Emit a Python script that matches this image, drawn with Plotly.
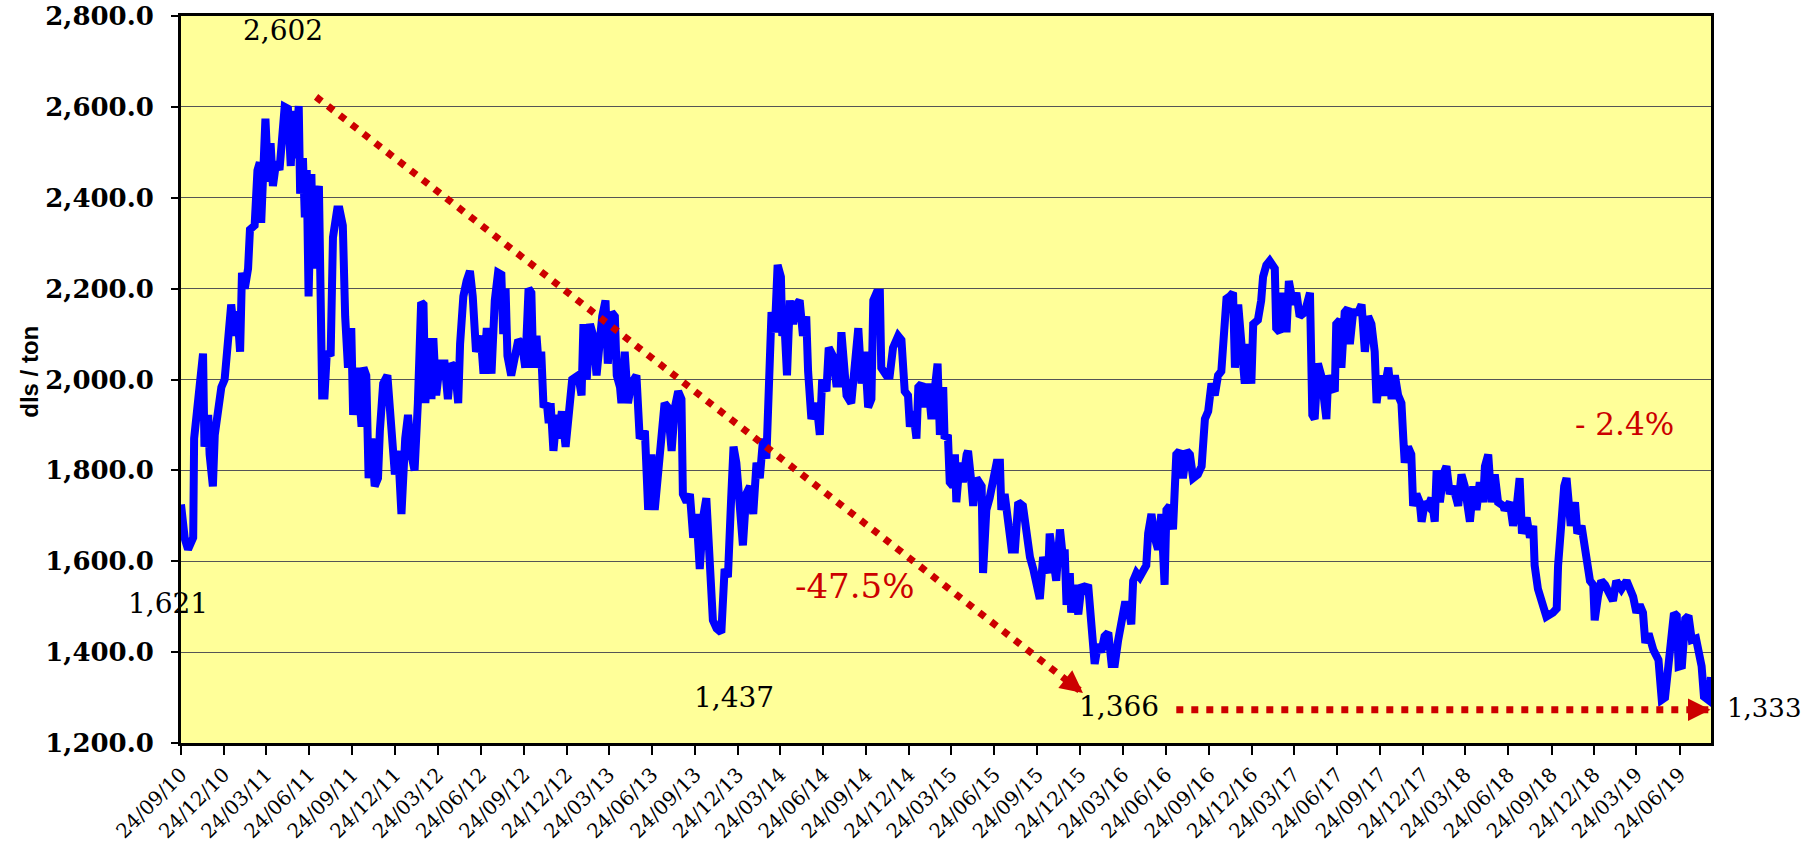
import pandas as pd
import plotly.graph_objects as go

# ---------------- data ----------------
start_date = "2010-09-24"
end_date = "2019-08-30"

days_since_start = [
    0, 8, 15, 22, 26, 28, 33, 36, 40, 47, 50, 58, 61, 68, 72, 79, 86, 93, 100, 107,
    114, 120, 126, 130, 136, 143, 147, 157, 163, 168, 171, 176, 180, 186, 191, 196, 203, 210, 215, 221,
    228, 234, 239, 244, 251, 254, 260, 264, 268, 272, 278, 282, 288, 294, 301, 306, 311, 319, 324, 333,
    338, 345, 350, 356, 363, 367, 376, 385, 389, 395, 400, 406, 413, 420, 424, 431, 440, 448, 456, 463,
    470,
    478, 484, 491, 498, 505, 512, 517, 521, 528, 534, 538, 544, 552, 562, 569, 576, 584, 591, 595, 602,
    609, 616, 622, 629, 639, 645, 652, 662, 669, 676, 683, 687, 692, 696, 704, 711, 719, 727, 734, 741,
    747, 751, 758, 763, 768, 773, 780, 784, 788, 794, 801, 805, 812, 820, 827, 834, 847, 854, 858, 865,
    872, 879, 886, 892, 898, 905, 910, 918, 925, 929, 936,
    939, 946, 953, 960, 971, 978, 989, 996, 1003, 1010, 1017, 1024, 1031, 1038, 1046, 1053, 1060, 1067, 1070, 1078,
    1085, 1092, 1099, 1106, 1113, 1120, 1127, 1134, 1142, 1152, 1159, 1166, 1173, 1178, 1184, 1191, 1198, 1205, 1213, 1220,
    1227, 1234, 1241, 1248, 1252, 1259, 1266, 1272, 1279, 1282, 1287, 1292, 1298, 1305, 1312, 1319, 1326, 1333, 1337, 1344,
    1355, 1362, 1367, 1376, 1381, 1390, 1397, 1404, 1408,
    1419, 1429, 1436, 1444, 1451, 1458, 1465, 1472, 1476, 1483, 1490, 1493, 1504, 1511, 1518, 1529, 1536, 1543, 1550, 1554,
    1561, 1568, 1572, 1579, 1586, 1593, 1600, 1607, 1613, 1618, 1625, 1628, 1635, 1639, 1646, 1650, 1653, 1660, 1667, 1675,
    1678, 1685, 1689, 1696, 1707, 1710, 1717, 1724, 1731, 1739, 1746, 1749, 1756, 1763, 1771, 1778, 1785, 1795, 1803, 1810,
    1817, 1824, 1831, 1838, 1849, 1852, 1859, 1866, 1874,
    1881, 1884, 1888, 1895, 1898, 1905, 1913, 1920, 1927, 1934, 1941, 1948, 1955, 1962, 1969, 1977, 1984, 1991, 1998, 2005,
    2012, 2019, 2026, 2030, 2037, 2044, 2051, 2058, 2062, 2069, 2076, 2083, 2090, 2097, 2101, 2108, 2115, 2119, 2122, 2129,
    2136, 2144, 2151, 2158, 2168, 2176, 2183, 2190, 2197, 2204, 2211, 2218, 2222, 2225, 2229, 2236, 2243, 2247, 2254, 2261,
    2268, 2275, 2282, 2286, 2296, 2303, 2307, 2314, 2321, 2332, 2335, 2343, 2350,
    2357, 2362, 2371, 2378, 2385, 2396, 2407, 2412, 2417, 2424, 2431, 2442, 2446, 2453, 2460, 2463, 2471, 2474, 2481, 2488,
    2492, 2499, 2510, 2517, 2524, 2531, 2538, 2545, 2549, 2556, 2563, 2570, 2574, 2581, 2588, 2595, 2602, 2606, 2609, 2616,
    2623, 2627, 2634, 2641, 2645, 2652, 2659, 2666, 2673, 2677, 2684, 2691, 2698, 2705, 2712, 2723, 2730, 2737, 2748, 2755,
    2762, 2769, 2776, 2780, 2787, 2794, 2801, 2808, 2819,
    2822, 2833, 2840, 2847, 2854, 2859, 2869, 2876, 2883, 2886, 2893, 2904, 2911, 2925, 2933, 2936, 2943, 2949, 2954, 2959,
    2963, 2972, 2977, 2986, 2996, 3004, 3011, 3014, 3021, 3028, 3036, 3046, 3053, 3060, 3071, 3082, 3089, 3096, 3103, 3110,
    3117, 3122, 3129, 3139, 3150, 3157, 3164, 3171, 3178, 3183, 3189, 3193, 3200, 3207, 3214, 3221, 3230, 3237, 3242, 3247,
    3256, 3262,
]

price = [
    1725, 1650, 1626, 1640, 1652, 1870, 1913, 1965, 1991, 2057, 1852, 1922, 1835, 1765, 1878, 1939, 1983, 2000, 2070, 2165,
    2096, 2150, 2061, 2235, 2200, 2244, 2330, 2339, 2460, 2478, 2345, 2530, 2574, 2435, 2520, 2426, 2480, 2461, 2530, 2600,
    2596, 2470, 2591, 2487, 2602, 2409, 2487, 2357, 2461, 2183, 2452, 2244, 2390, 2426, 1965, 1965, 2061, 2052, 2313, 2374,
    2374, 2339, 2139, 2026, 2113, 1922, 2026, 1896, 2026, 2009, 1783, 1870, 1765, 1783, 1887, 1991, 2009, 1922, 1791, 1843,
    1704,
    1870, 1922, 1835, 1800, 1948, 2170, 2165, 1948, 2091, 1957, 2091, 1965, 2035, 2035, 1957, 2035, 2026, 1948, 2078, 2183,
    2217, 2239, 2183, 2061, 2096, 2013, 2113, 2013, 2174, 2235, 2231, 2100, 2200, 2052, 2009, 2044, 2087, 2078, 2026, 2200,
    2191, 2026, 2096, 2026, 2061, 1939, 1948, 1904, 1948, 1843, 1922, 1870, 1930, 1852, 1922, 2000, 2009, 1965, 2122, 2000,
    2122, 2096, 2009, 2096, 2139, 2174, 2035, 2148, 2139, 2009, 1983,
    1948, 2061, 1948, 1991, 2009, 1870, 1887, 1713, 1835, 1713, 1791, 1870, 1948, 1939, 1843, 1939, 1974, 1957, 1748, 1730,
    1748, 1652, 1704, 1583, 1696, 1739, 1591, 1470, 1452, 1443, 1583, 1565, 1739, 1852, 1817, 1713, 1635, 1748, 1765, 1704,
    1817, 1783, 1870, 1826, 1983, 2148, 2104, 2252, 2226, 2096, 2113, 2009, 2174, 2122, 2165, 2174, 2096, 2139, 2018, 1913,
    1948, 1878, 2000, 1974, 2070, 2052, 1991, 1991, 2104,
    1965, 1948, 2044, 2113, 1991, 2061, 1939, 1957, 2174, 2191, 2191, 2026, 2009, 2009, 2070, 2096, 2087, 1974, 1965, 1896,
    1930, 1870, 1983, 1991, 1939, 1991, 1913, 2000, 2035, 1878, 1983, 1870, 1878, 1774, 1765, 1835, 1730, 1817, 1774, 1835,
    1843, 1774, 1722, 1783, 1765, 1574, 1713, 1739, 1783, 1817, 1817, 1713, 1748, 1678, 1626, 1626, 1730, 1722, 1643, 1609,
    1583, 1557, 1517, 1609, 1574, 1661, 1591, 1557, 1670,
    1600, 1626, 1504, 1574, 1487, 1548, 1483, 1548, 1539, 1548, 1452, 1374, 1417, 1400, 1435, 1443, 1374, 1374, 1426, 1470,
    1504, 1504, 1461, 1557, 1574, 1565, 1583, 1591, 1661, 1704, 1652, 1626, 1704, 1548, 1713, 1722, 1670, 1765, 1835, 1843,
    1783, 1843, 1835, 1783, 1791, 1809, 1913, 1930, 1991, 1965, 2009, 2018, 2070, 2148, 2178, 2183, 2191, 2026, 2165, 2078,
    1991, 2078, 1991, 2122, 2131, 2174, 2226, 2252, 2261, 2244, 2113, 2104, 2191,
    2104, 2217, 2165, 2191, 2139, 2148, 2191, 1922, 1913, 2035, 2009, 1913, 2009, 1983, 1974, 2122, 2131, 2026, 2148, 2157,
    2078, 2148, 2148, 2165, 2061, 2139, 2122, 2061, 1948, 2009, 1965, 2018, 2026, 1957, 2009, 1965, 1948, 1870, 1817, 1852,
    1835, 1722, 1748, 1730, 1687, 1730, 1722, 1739, 1687, 1800, 1730, 1791, 1809, 1748, 1765, 1722, 1791, 1765, 1687, 1765,
    1713, 1774, 1730, 1809, 1835, 1730, 1791, 1730, 1722,
    1713, 1730, 1678, 1713, 1783, 1661, 1696, 1652, 1678, 1591, 1539, 1504, 1478, 1487, 1496, 1591, 1696, 1765, 1783, 1730,
    1678, 1730, 1661, 1678, 1600, 1557, 1548, 1470, 1522, 1557, 1548, 1530, 1513, 1557, 1539, 1557, 1539, 1522, 1487, 1504,
    1487, 1420, 1441, 1405, 1383, 1295, 1300, 1368, 1440, 1486, 1480, 1368, 1370, 1473, 1480, 1427, 1430, 1400, 1369, 1302,
    1295, 1345,
]

y_ticks = [1200, 1400, 1600, 1800, 2000, 2200, 2400, 2600, 2800]

# value labels inside the plotted date range
label_dates = ["2011-04-29", "2013-12-16", "2016-03-16"]
label_values = [2767, 1301, 1281]
label_texts = ["2,602", "1,437", "1,366"]

# first / last value labels (just outside the plot's left / right edges)
first_label_text, first_label_value = "1,621", 1508
last_label_text, last_label_value = "1,333", 1277

pct_dates = ["2014-08-31", "2019-02-26"]
pct_values = [1545, 1902]
pct_texts = ["-47.5%", "- 2.4%"]

# dotted trend arrows (start -> tip)
arrow_start_dates = ["2011-07-09", "2016-07-16"]
arrow_start_values = [2622, 1273]
arrow_end_dates = ["2015-12-30", "2019-08-29"]
arrow_end_values = [1310, 1273]

# ---------------- figure ----------------
dates = pd.to_datetime(start_date) + pd.to_timedelta(days_since_start, unit="D")

RED = "#CC0000"
SERIF = "DejaVu Serif"

fig = go.Figure()
fig.add_trace(go.Scatter(
    x=dates, y=price, mode="lines",
    line=dict(color="#0000FF", width=8),
    showlegend=False, hoverinfo="x+y",
))

for sx, sy, ex, ey in zip(arrow_start_dates, arrow_start_values, arrow_end_dates, arrow_end_values):
    fig.add_shape(type="line", xref="x", yref="y", x0=sx, y0=sy, x1=ex, y1=ey,
                  line=dict(color=RED, width=7, dash="7px,8px"), layer="above")

# arrow heads
fig.add_annotation(x=arrow_end_dates[0], y=arrow_end_values[0], xref="x", yref="y",
                   ax=-19, ay=-15, text="", showarrow=True, arrowhead=2,
                   arrowsize=1.5, arrowwidth=3, arrowcolor=RED)
fig.add_annotation(x=arrow_end_dates[1], y=arrow_end_values[1], xref="x", yref="y",
                   ax=-24, ay=0, text="", showarrow=True, arrowhead=2,
                   arrowsize=1.5, arrowwidth=3, arrowcolor=RED)

for d, v, t in zip(label_dates, label_values, label_texts):
    fig.add_annotation(x=d, y=v, xref="x", yref="y", text=t, showarrow=False,
                       font=dict(family=SERIF, size=28, color="black"))

fig.add_annotation(x=-0.0085, y=first_label_value, xref="paper", yref="y",
                   xanchor="center", yanchor="middle",
                   text=first_label_text, showarrow=False,
                   font=dict(family=SERIF, size=28, color="black"))
fig.add_annotation(x=1.0, y=last_label_value, xref="paper", yref="y",
                   xanchor="left", yanchor="middle",
                   xshift=14, text=last_label_text, showarrow=False,
                   font=dict(family=SERIF, size=26, color="black"))

for d, v, t, s in zip(pct_dates, pct_values, pct_texts, [34, 31]):
    fig.add_annotation(x=d, y=v, xref="x", yref="y", text=t, showarrow=False,
                       font=dict(family=SERIF, size=s, color=RED))

# y-axis title
fig.add_annotation(x=-0.099, y=0.51, xref="paper", yref="paper", text="dls / ton",
                   xanchor="center", yanchor="middle",
                   textangle=-90, showarrow=False,
                   font=dict(family="Liberation Sans", size=24, color="black", weight="bold"))

fig.update_layout(
    width=1812, height=860,
    margin=dict(l=181, r=101, t=16, b=117, autoexpand=False),
    paper_bgcolor="white",
    plot_bgcolor="#FFFF99",
    showlegend=False,
)

fig.update_xaxes(
    type="date",
    range=[start_date, end_date],
    tick0=start_date, dtick="M3", tickformat="%d/%m/%y",
    tickangle=-45,
    tickfont=dict(family=SERIF, size=20, color="black"),
    ticks="outside", ticklen=9, tickcolor="black", tickwidth=1.5,
    showgrid=False, zeroline=False, automargin=False,
    showline=True, linecolor="black", linewidth=3, mirror=True,
)

fig.update_yaxes(
    range=[1200, 2800],
    tickvals=y_ticks, tickformat=",.1f",
    tickfont=dict(family=SERIF, size=26, color="black", weight="bold"),
    ticks="outside", ticklen=7, tickcolor="black", tickwidth=1.5,
    ticklabelstandoff=12, ticklabeloverflow="allow",
    showgrid=True, gridcolor="#555555", gridwidth=1,
    zeroline=False, automargin=False,
    showline=True, linecolor="black", linewidth=3, mirror=True,
)

# remove the default 8px page margin so the 1812x860 figure fills the window exactly
fig.write_html("out.html", config={"displayModeBar": False},
               post_script="document.body.style.margin='0';")
